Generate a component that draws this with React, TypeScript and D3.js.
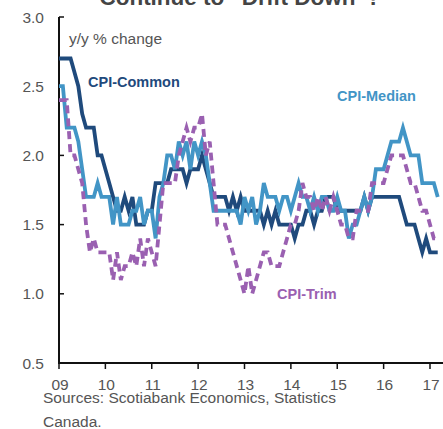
import React from "react";
import * as d3 from "d3";

// monthly, Jan 2009 .. Mar 2017
const startYear = 2009;
const cpiCommon = [
  2.7, 2.7, 2.7, 2.7, 2.6, 2.5, 2.3, 2.2, 2.2, 2.2, 2.0, 2.0,
  1.9, 1.8, 1.7, 1.6, 1.6, 1.7, 1.6, 1.7, 1.5, 1.5, 1.5, 1.6,
  1.6, 1.8, 1.8, 1.8, 1.8, 1.9, 1.9, 1.9, 1.9, 1.8, 1.9, 1.9,
  1.9, 2.0, 1.9, 1.8, 1.7, 1.7, 1.7, 1.7, 1.6, 1.7, 1.6, 1.7,
  1.6, 1.6, 1.6, 1.6, 1.6, 1.5, 1.6, 1.5, 1.6, 1.5, 1.5, 1.5,
  1.5, 1.4, 1.5, 1.5, 1.6, 1.6, 1.5, 1.6, 1.6, 1.7, 1.7, 1.7,
  1.6, 1.6, 1.6, 1.6, 1.6, 1.6, 1.6, 1.7, 1.6, 1.7, 1.7, 1.7,
  1.7, 1.7, 1.7, 1.7, 1.7, 1.6, 1.5, 1.5, 1.5, 1.4, 1.3, 1.4,
  1.3, 1.3, 1.3,
];
const cpiMedian = [
  2.5, 2.5, 2.2, 2.2, 2.2, 2.1, 1.9, 1.7, 1.7, 1.7, 1.8, 1.7,
  1.7, 1.7, 1.5, 1.7, 1.5, 1.5, 1.5, 1.6, 1.6, 1.7, 1.5, 1.6,
  1.6, 1.4, 1.7, 1.8, 2.0, 2.0, 1.9, 2.1, 2.0, 2.1, 1.9, 2.1,
  2.0, 2.1, 2.0, 1.8, 1.6, 1.6, 1.6, 1.6, 1.6, 1.6, 1.6, 1.5,
  1.7, 1.6, 1.7, 1.5, 1.6, 1.8, 1.7, 1.7, 1.7, 1.6, 1.7, 1.7,
  1.6, 1.7, 1.8, 1.7, 1.7, 1.6, 1.7, 1.6, 1.7, 1.7, 1.6, 1.6,
  1.7, 1.6, 1.6, 1.4, 1.5, 1.5, 1.6, 1.7, 1.6, 1.7, 1.9, 1.9,
  1.9, 2.0, 2.1, 2.1, 2.1, 2.2, 2.1, 2.0, 2.0, 2.0, 1.8, 1.8,
  1.8, 1.8, 1.7,
];
const cpiTrim = [
  2.4, 2.4, 2.4, 2.0, 2.0, 1.9, 1.8, 1.5, 1.3, 1.4, 1.3, 1.3,
  1.3, 1.3, 1.1, 1.3, 1.1, 1.2, 1.2, 1.3, 1.2, 1.4, 1.2, 1.4,
  1.3, 1.2, 1.5, 1.8, 1.8, 1.8, 1.8, 2.0, 2.1, 2.2, 2.1, 2.2,
  2.2, 2.3, 2.0, 2.1, 1.8, 1.5, 1.5, 1.5, 1.4, 1.3, 1.2, 1.1,
  1.0, 1.2, 1.0, 1.1, 1.2, 1.3, 1.3, 1.2, 1.2, 1.2, 1.3, 1.4,
  1.5, 1.5, 1.6, 1.8, 1.7, 1.7, 1.6, 1.7, 1.6, 1.7, 1.6, 1.7,
  1.6, 1.5, 1.5, 1.4, 1.4, 1.6, 1.6, 1.6, 1.6, 1.8, 1.8, 1.8,
  1.8, 1.9, 2.0, 2.0, 2.0, 2.0, 1.9, 1.8, 1.8, 1.7, 1.6, 1.6,
  1.5, 1.4, 1.4,
];
const yTicks = [0.5, 1.0, 1.5, 2.0, 2.5, 3.0];
const xTickYears = [2009, 2010, 2011, 2012, 2013, 2014, 2015, 2016, 2017];

const font = "'Liberation Sans', Arial, sans-serif";
const grey = "#555";

const App = () => {
  const width = 443;
  const height = 429;

  const x = d3.scaleLinear().domain([2009, 2017]).range([59, 430]);
  const y = d3.scaleLinear().domain([0.5, 3.0]).range([363, 17]);

  const line = d3
    .line<number>()
    .x((d, i) => x(startYear + i / 12))
    .y((d) => y(d))
    .curve(d3.curveLinear);

  const series = [
    { name: "CPI-Common", values: cpiCommon, color: "#1f4a7c", dash: undefined },
    { name: "CPI-Median", values: cpiMedian, color: "#4295c6", dash: undefined },
    { name: "CPI-Trim", values: cpiTrim, color: "#9a60b1", dash: "8,5" },
  ];

  return (
    <svg
      width={width}
      height={height}
      style={{ position: "absolute", left: 0, top: 0, background: "#fff" }}
      fontFamily={font}
    >
      {/* title, mostly cut off above the frame */}
      <text
        x={240}
        y={5}
        textAnchor="middle"
        fontSize={22.5}
        fontWeight="bold"
        fill="#444"
      >
        Continue to “Drift Down”?
      </text>

      {/* y axis */}
      <line x1={59} x2={59} y1={y(3.0)} y2={y(0.5) + 1} stroke="#111" strokeWidth={2} />
      {yTicks.map((t) => (
        <g key={t}>
          <line x1={59} x2={64} y1={y(t)} y2={y(t)} stroke="#111" strokeWidth={1.5} />
          <text
            x={44}
            y={y(t) + 5.5}
            textAnchor="end"
            fontSize={15.5}
            fill={grey}
          >
            {t.toFixed(1)}
          </text>
        </g>
      ))}

      {/* x axis */}
      <line x1={58} x2={443} y1={y(0.5)} y2={y(0.5)} stroke="#111" strokeWidth={2} />
      {xTickYears.map((yr) => (
        <g key={yr}>
          <line x1={x(yr)} x2={x(yr)} y1={y(0.5)} y2={y(0.5) + 6} stroke="#111" strokeWidth={1.5} />
          <text
            x={x(yr) + 1}
            y={390}
            textAnchor="middle"
            fontSize={15.5}
            fill={grey}
          >
            {String(yr % 100).padStart(2, "0")}
          </text>
        </g>
      ))}

      {series.map((s) => (
        <path
          key={s.name}
          d={line(s.values) || ""}
          fill="none"
          stroke={s.color}
          strokeWidth={3.8}
          strokeDasharray={s.dash}
          strokeLinejoin="miter"
        />
      ))}

      <text x={69} y={44} fontSize={15.5} fill={grey}>
        y/y % change
      </text>
      <text x={88} y={87} fontSize={14.5} fontWeight="bold" fill="#1f4a7c">
        CPI-Common
      </text>
      <text x={337} y={101} fontSize={14.5} fontWeight="bold" fill="#4295c6">
        CPI-Median
      </text>
      <text x={277} y={299} fontSize={14.5} fontWeight="bold" fill="#9a60b1">
        CPI-Trim
      </text>

      <text x={43} y={403} fontSize={15.5} fill={grey}>
        Sources: Scotiabank Economics, Statistics
      </text>
      <text x={43} y={427} fontSize={15.5} fill={grey}>
        Canada.
      </text>
    </svg>
  );
};

export default App;
